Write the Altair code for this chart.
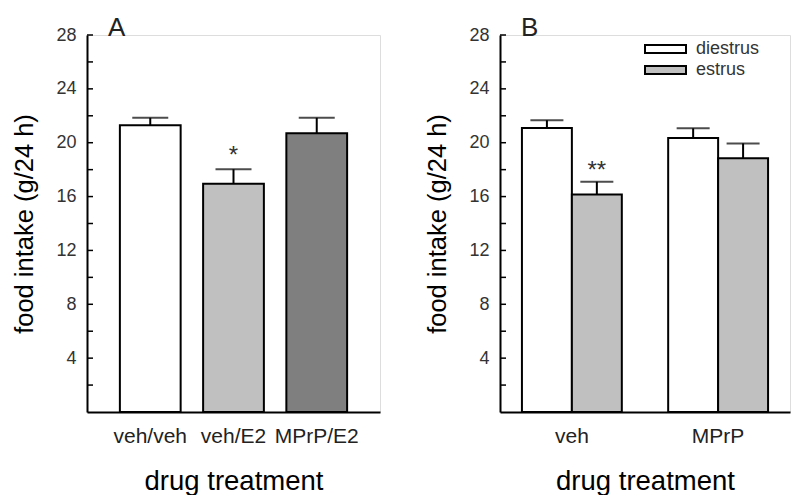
import altair as alt
import pandas as pd

# ---- data ----
cond_a = ["veh/veh", "veh/E2", "MPrP/E2"]
mean_a = [21.3, 16.95, 20.7]
sem_a = [0.55, 1.08, 1.15]
star_a = ["", "*", ""]
star_y_a = [None, 19.4, None]

drugs_b = ["veh", "MPrP"]
phases_b = ["diestrus", "estrus"]
mean_b_diestrus = [21.1, 20.35]
sem_b_diestrus = [0.57, 0.72]
mean_b_estrus = [16.15, 18.85]
sem_b_estrus = [0.95, 1.1]
star_b_estrus = ["**", ""]
star_y_b_estrus = [18.3, None]

y_ticks_all = [2, 4, 6, 8, 10, 12, 14, 16, 18, 20, 22, 24, 26, 28]
y_labels = [4, 8, 12, 16, 20, 24, 28]

FONT = "Liberation Sans"

df_a = pd.DataFrame({"cond": cond_a, "mean": mean_a, "sem": sem_a})
df_a["upper"] = df_a["mean"] + df_a["sem"]
stars_a = pd.DataFrame({"cond": cond_a, "star": star_a, "sy": star_y_a}).dropna()

rows = []
for i, d in enumerate(drugs_b):
    rows.append({"drug": d, "phase": "diestrus", "mean": mean_b_diestrus[i], "sem": sem_b_diestrus[i]})
    rows.append({"drug": d, "phase": "estrus", "mean": mean_b_estrus[i], "sem": sem_b_estrus[i]})
df_b = pd.DataFrame(rows)
df_b["upper"] = df_b["mean"] + df_b["sem"]
stars_b = pd.DataFrame({"drug": drugs_b, "phase": ["estrus", "estrus"],
                        "star": star_b_estrus, "sy": star_y_b_estrus}).dropna()
ticks_df = pd.DataFrame({"v": y_ticks_all})

yscale = alt.Scale(domain=[0, 28], nice=False, zero=True)


def yaxis():
    return alt.Axis(title="food intake (g/24 h)", values=y_labels, ticks=False,
                    grid=False, domainColor="black", domainWidth=2,
                    labelFont=FONT, labelFontSize=18, labelColor="#333",
                    labelPadding=11, titleFont=FONT, titleFontSize=25.5,
                    titleFontWeight="normal", titleColor="black", titlePadding=18)


def xaxis():
    return alt.Axis(title="drug treatment", ticks=False, labelAngle=0, grid=False,
                    domainColor="black", domainWidth=2, labelFont=FONT,
                    labelFontSize=21, labelColor="#222", labelPadding=13,
                    titleFont=FONT, titleFontSize=27.5, titleFontWeight="normal",
                    titleColor="black", titlePadding=21)


def panel_title(t):
    return alt.TitleParams(t, anchor="start", frame="group", dx=21, fontSize=26,
                           fontWeight="normal", font=FONT, color="#222", offset=-15)


# ---- panel A ----
xa = alt.X("cond:N", sort=cond_a,
           scale=alt.Scale(domain=cond_a, paddingInner=0.27, paddingOuter=0.395),
           axis=xaxis())
bars_a = alt.Chart(df_a).mark_bar(stroke="black", strokeWidth=2).encode(
    x=xa,
    y=alt.Y("mean:Q", scale=yscale, axis=yaxis()),
    fill=alt.Fill("cond:N", scale=alt.Scale(domain=cond_a,
                  range=["#ffffff", "#c0c0c0", "#7f7f7f"]), legend=None),
)
err_a = alt.Chart(df_a).mark_rule(color="black", strokeWidth=2).encode(
    x=alt.X("cond:N", sort=cond_a), y="mean:Q", y2="upper:Q")
cap_a = alt.Chart(df_a).mark_tick(color="black", size=36, thickness=2).encode(
    x=alt.X("cond:N", sort=cond_a), y="upper:Q")
txt_a = alt.Chart(stars_a).mark_text(font=FONT, fontSize=24, baseline="middle",
                                     dy=5, color="#333").encode(
    x=alt.X("cond:N", sort=cond_a), y="sy:Q", text="star:N")
tk_a = alt.Chart(ticks_df).mark_rule(color="black", strokeWidth=1.5).encode(
    y="v:Q", x=alt.value(0), x2=alt.value(6))

panel_a = alt.layer(bars_a, err_a, cap_a, txt_a, tk_a).properties(
    width=293, height=377, title=panel_title("A"))

# ---- panel B ----
xb = alt.X("drug:N", sort=drugs_b,
           scale=alt.Scale(domain=drugs_b, paddingInner=0.317, paddingOuter=0.15),
           axis=xaxis())
xob = alt.XOffset("phase:N", sort=phases_b,
                  scale=alt.Scale(domain=phases_b, paddingInner=0, paddingOuter=0))
bars_b = alt.Chart(df_b).mark_bar(stroke="black", strokeWidth=2).encode(
    x=xb, xOffset=xob,
    y=alt.Y("mean:Q", scale=yscale, axis=yaxis()),
    fill=alt.Fill("phase:N", scale=alt.Scale(domain=phases_b,
                  range=["#ffffff", "#c0c0c0"]),
                  legend=alt.Legend(title=None, orient="none", legendX=156.5, legendY=5,
                                    symbolType="M-4.1,-0.8H4.1V0.8H-4.1Z", symbolSize=100,
                                    symbolStrokeColor="black", symbolStrokeWidth=2,
                                    symbolOpacity=1, labelFont=FONT, labelFontSize=18,
                                    labelColor="#333", labelOffset=21.5, rowPadding=3)),
)
err_b = alt.Chart(df_b).mark_rule(color="black", strokeWidth=2).encode(
    x=alt.X("drug:N", sort=drugs_b), xOffset=xob, y="mean:Q", y2="upper:Q")
cap_b = alt.Chart(df_b).mark_tick(color="black", size=33, thickness=2).encode(
    x=alt.X("drug:N", sort=drugs_b), xOffset=xob, y="upper:Q")
txt_b = alt.Chart(stars_b).mark_text(font=FONT, fontSize=24, baseline="middle",
                                     dy=5, color="#333").encode(
    x=alt.X("drug:N", sort=drugs_b), xOffset=xob, y="sy:Q", text="star:N")
tk_b = alt.Chart(ticks_df).mark_rule(color="black", strokeWidth=1.5).encode(
    y="v:Q", x=alt.value(0), x2=alt.value(6))

panel_b = alt.layer(bars_b, err_b, cap_b, txt_b, tk_b).properties(
    width=290, height=377, title=panel_title("B"))

chart = alt.hconcat(panel_a, panel_b, spacing=44).resolve_scale(
    fill="independent", x="independent"
).properties(
    padding={"left": 4, "top": 6, "right": 0, "bottom": 0}
).configure_view(stroke=None).configure(font=FONT, background="white")

chart.save("out.html", embed_options={"renderer": "svg", "actions": False})
